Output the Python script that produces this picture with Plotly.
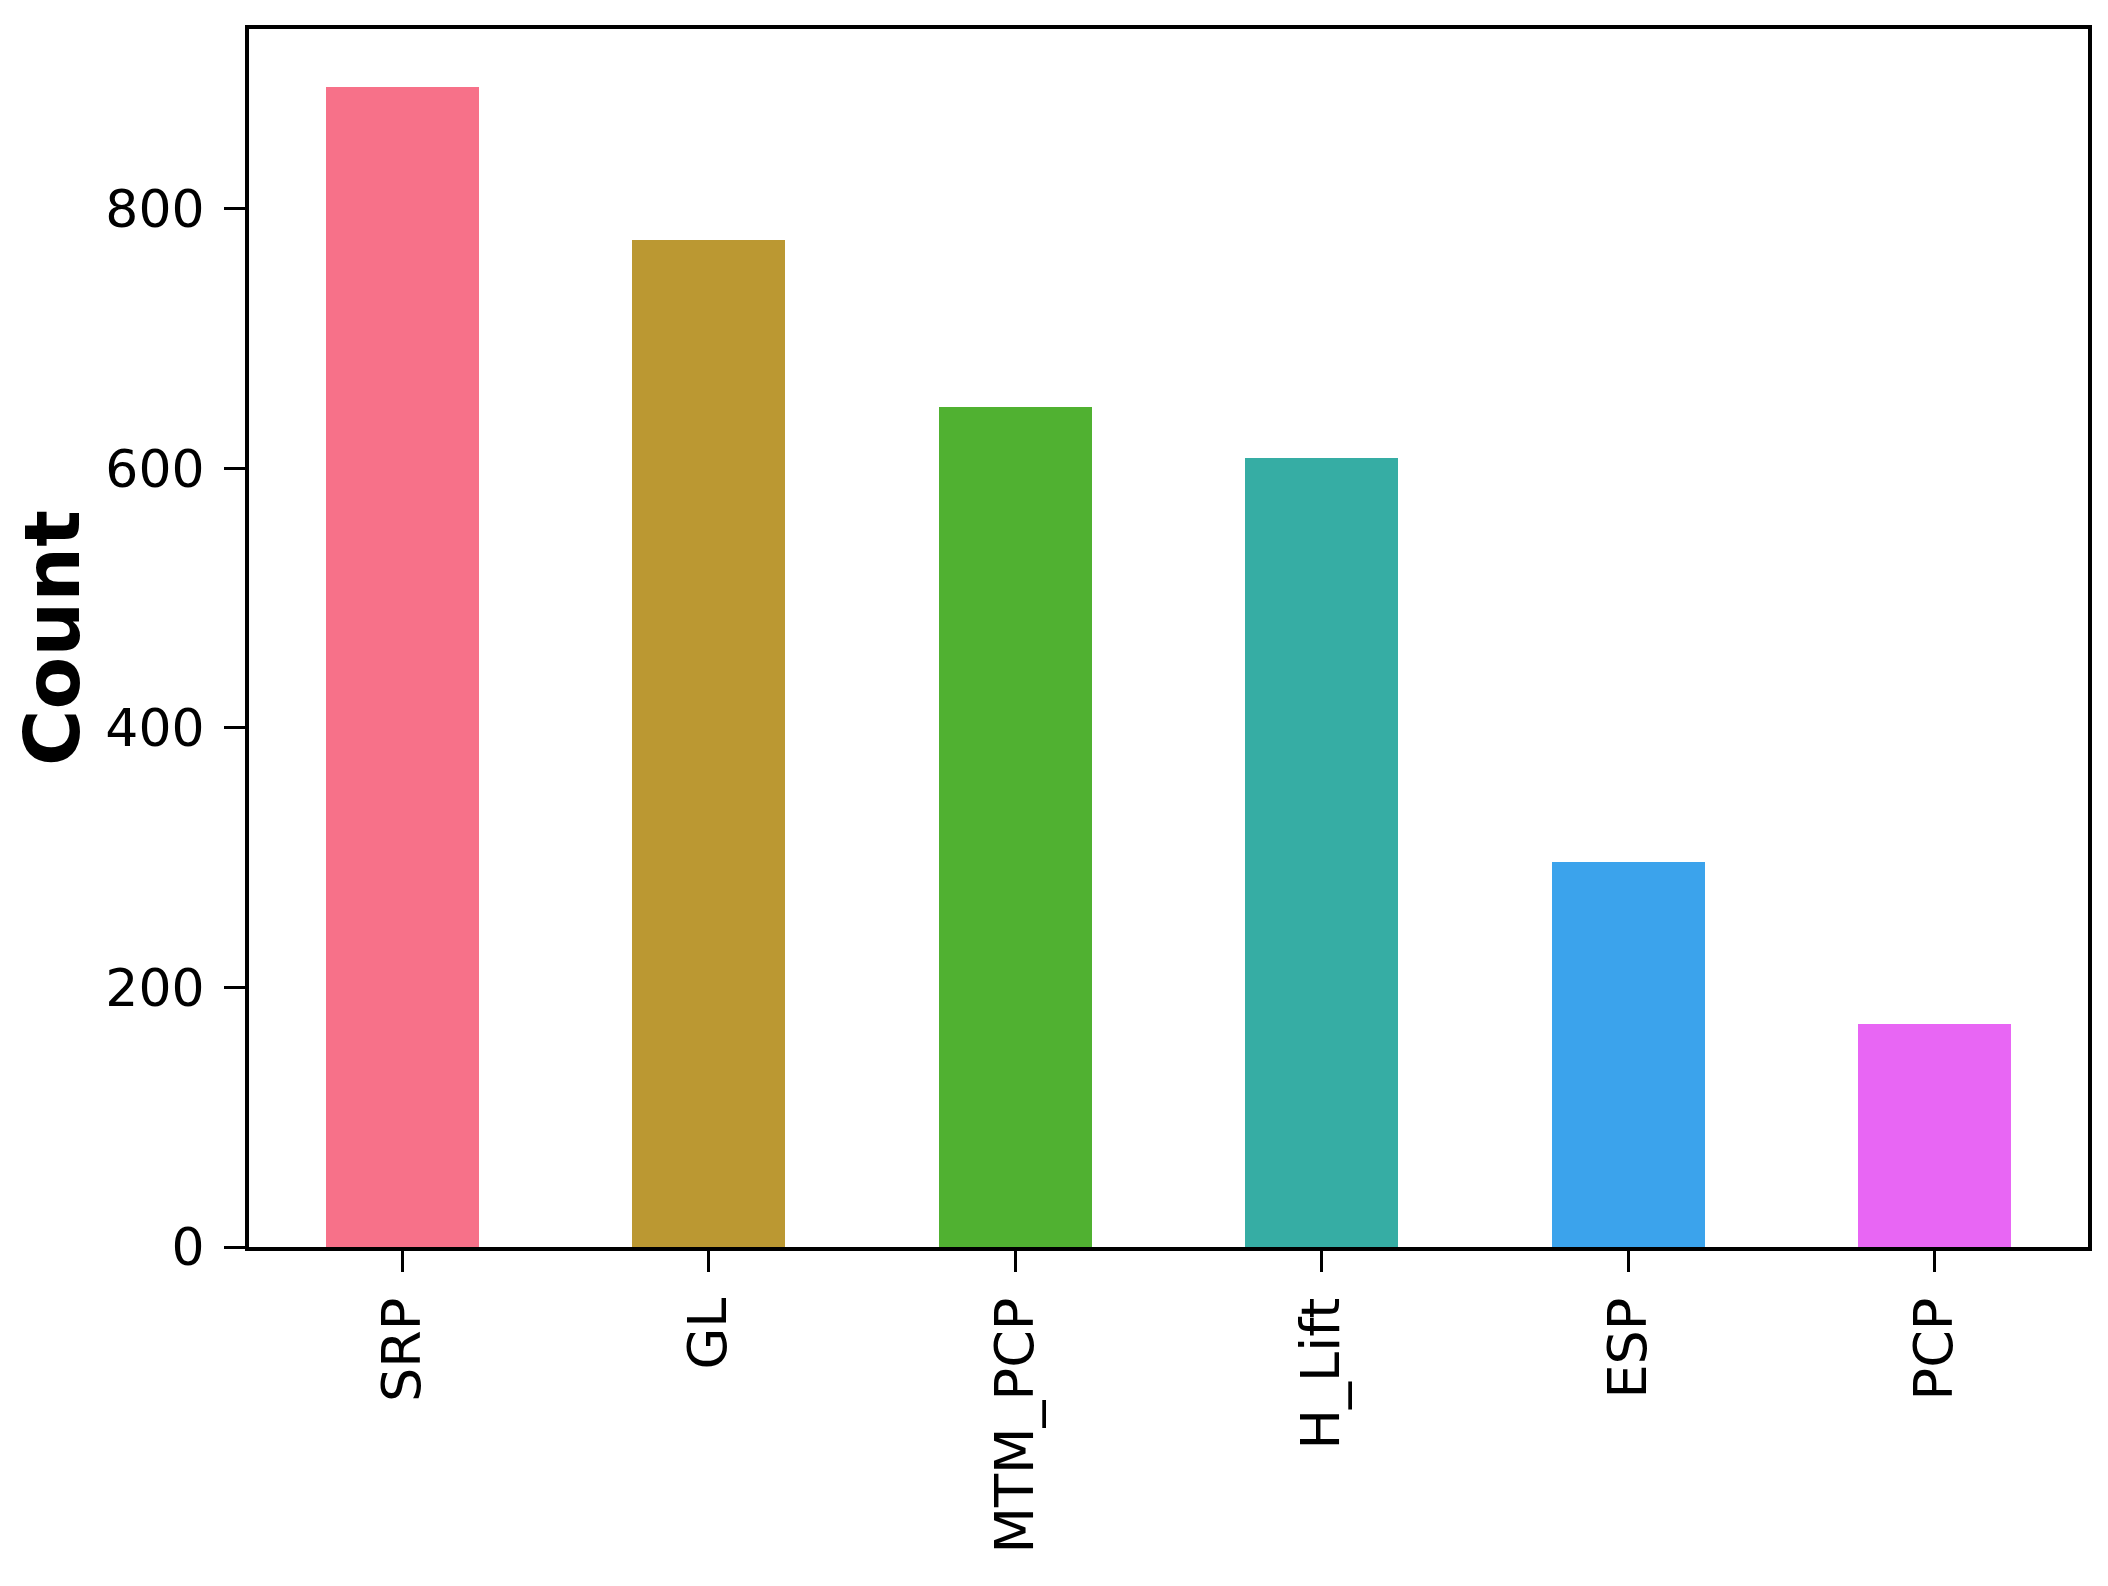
import plotly.graph_objects as go

# data
lift_types = ['SRP', 'GL', 'MTM_PCP', 'H_Lift', 'ESP', 'PCP']
counts = [894, 776, 647, 608, 297, 172]
bar_colors = ['#f77189', '#bb9832', '#50b131', '#36ada4', '#3ba3ec', '#e866f4']
y_ticks = [0, 200, 400, 600, 800]
y_label = 'Count'

# bars
fig = go.Figure(go.Bar(x=lift_types, y=counts,
                       marker=dict(color=bar_colors, line=dict(width=0)),
                       width=0.5))

# axes
axis_style = dict(showline=True, linecolor='black', linewidth=4, mirror=True,
                  ticks='outside', tickcolor='black', tickwidth=3, ticklen=21,
                  showgrid=False, zeroline=False, automargin=False,
                  tickfont=dict(family='DejaVu Sans', size=52, color='black'))

fig.update_xaxes(axis_style, range=[-0.5, 5.5], tickangle=-90, ticklabelstandoff=4,
                 tickfont_size=54)
fig.update_yaxes(axis_style, range=[0, max(counts) * 1.05], tickvals=y_ticks,
                 ticklabelstandoff=9,
                 title=dict(text='<b>' + y_label + '</b>', standoff=49,
                            font=dict(family='DejaVu Sans', size=77, color='black')))

# page body adds 8px, so the figure is 16px smaller
fig.update_layout(width=2092, height=1570,
                  margin=dict(l=241, r=12, t=21, b=331),
                  plot_bgcolor='white', paper_bgcolor='white',
                  showlegend=False, bargap=0)

fig.write_html("out.html")
